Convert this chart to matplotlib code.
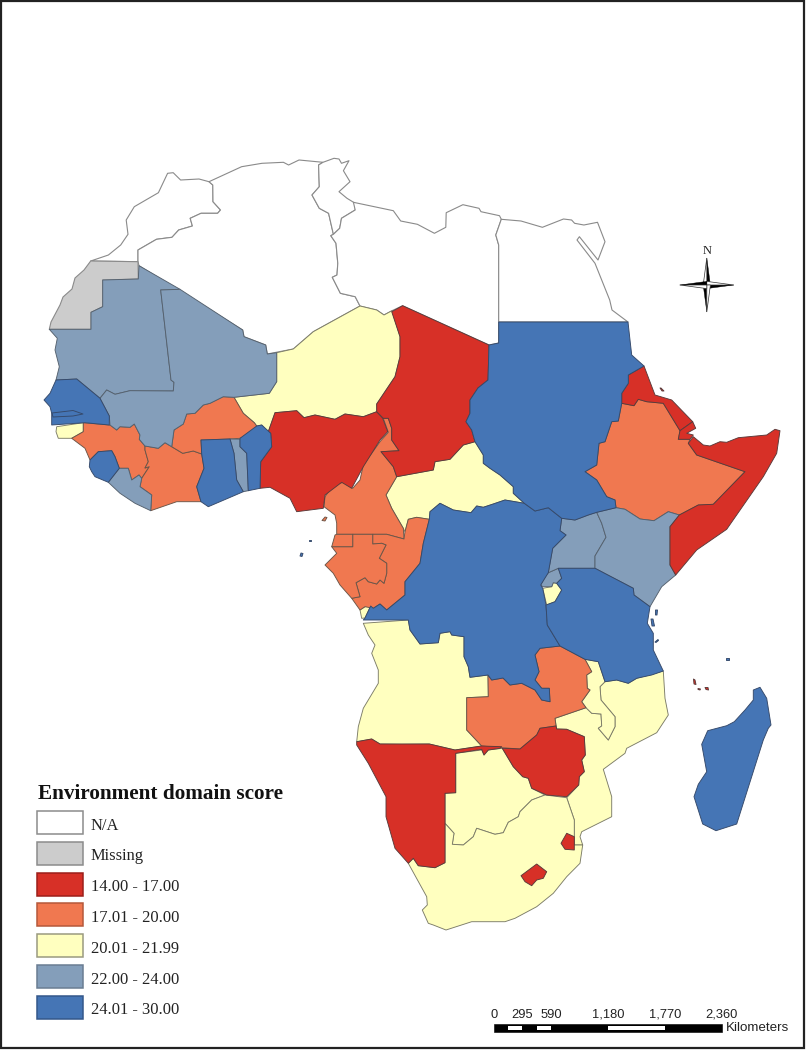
import matplotlib
matplotlib.use('Agg')
import matplotlib.pyplot as plt
from matplotlib.patches import Polygon, Rectangle

# outlines, in image pixels (x, y)
morocco = [(90.7,261),(108.4,255),(120.7,245),(128,234.3),(126.2,220),(134.3,206.7),(158.4,192.7),(167.6,173.3),(173.2,172.7),(180.6,180),(199,179),(209,181.7),(212.8,185),(213,201.7),(220.5,210),(217.6,213.3),(201,213.3),(190.2,218.3),(192.4,226),(178.7,230),(172,237.3),(156.5,239.3),(138,250),(138,261.7)]
algeria = [(209,181.7),(241.6,166.7),(262,163.3),(283.4,162.3),(288.6,165),(299,160),(323,162.3),(318.6,165),(319.3,186.7),(312,195),(319.3,208.3),(328.6,213.3),(333.4,234.3),(330.8,235.7),(336,243.3),(337.8,263.3),(337,275),(332.3,277.3),(340.4,293.3),(355.2,296.7),(360,306),(313.3,331.7),(293.3,349),(267.3,354),(265.7,345),(244,336.7),(242.7,330),(139,265.7),(138,261.7),(138,250),(156.5,239.3),(172,237.3),(178.7,230),(192.4,226),(190.2,218.3),(201,213.3),(217.6,213.3),(220.5,210),(213,201.7),(212.8,185)]
tunisia = [(323,162.3),(334,158.3),(339,159),(341.5,163.3),(349,160.7),(343.4,170.7),(350,181.7),(339,191.7),(347,198.3),(355.2,203.3),(355.2,210),(341.5,218.3),(339.7,228.3),(333.4,234.3),(328.6,213.3),(319.3,208.3),(312,195),(319.3,186.7),(318.6,165)]
libya = [(353.4,202.3),(393.3,210.7),(400.7,221),(417.4,224.3),(434.4,233.3),(445.8,227.3),(446.2,212.7),(462.9,204.7),(479,208.3),(481,211.7),(499.5,215.7),(501.3,219.3),(495.8,235),(498.7,245),(498.7,343),(489,345),(402.6,305.7),(392,310.7),(384,315),(376.7,310),(360,306),(355.2,296.7),(340.4,293.3),(332.3,277.3),(337,275),(337.8,263.3),(336,243.3),(330.8,235.7),(333.4,234.3),(339.7,228.3),(341.5,218.3),(355.2,210)]
egypt = [(501.3,219.3),(521,221),(542.4,227.3),(563.5,219),(571.6,220),(574.6,223.3),(583.9,225),(597.5,222.3),(605,241.7),(598,260),(579.4,236.7),(577,240),(595,263.3),(609.7,300),(612,310),(628,322),(498.7,322),(498.7,245),(495.8,235)]

western_sahara = [(90.7,261),(138,261.7),(138.3,279),(102.7,280),(102.7,306.7),(91,312.3),(91,329.3),(49.3,329.3),(51,322),(60,305),(63,297),(72,289),(75,278),(84,270)]

mauritania = [(139,265.7),(180,289.3),(160.7,290),(171,380),(174,382.3),(173.3,391),(130,390.7),(115,394.3),(106.7,390),(100,398.3),(76.7,379),(56,380),(59.3,366.7),(55,350),(57.3,338.3),(49.3,329.3),(91,329.3),(91,312.3),(102.7,306.7),(102.7,280),(138.3,279)]
mali = [(180,289.3),(242.7,330),(244,336.7),(265.7,345),(267.3,354),(276.7,352.7),(276.7,381.7),(269.3,393.3),(234,397.3),(223.3,396.7),(210,403.3),(203.3,405),(195,413.3),(186.7,414),(183.3,424),(174,430),(171.7,446.7),(165,442.7),(158.3,448.3),(145,446),(139.3,439.3),(140,435),(134.3,424),(130,427.3),(120,426.7),(116.7,430),(110,425),(109.3,416),(100,398.3),(106.7,390),(115,394.3),(130,390.7),(173.3,391),(174,382.3),(171,380),(160.7,290)]
senegal = [(56,380),(76.7,379),(100,398.3),(109.3,416),(109.3,425),(85,422.7),(51.7,425),(51.7,413.3),(50,406.7),(44,400),(50,393.3)]
gambia = [(52,413),(73,410.5),(83,414),(73,416),(53,417)]
guinea_bissau = [(56.7,426.7),(83.3,422.7),(83.3,431.7),(71.7,438.3),(58.3,438.3),(56,431.7)]
guinea = [(83.3,422.7),(109.3,425),(110,425),(116.7,430),(120,426.7),(130,427.3),(134.3,424),(140,435),(139.3,439.3),(145,446),(145,450),(148.3,461.7),(145,468),(149.3,466.7),(141.7,478.3),(139,475),(131.7,480),(128.3,468.3),(119.3,468.3),(115,456.7),(111.7,450.7),(98.3,451.7),(90,460),(85,448.3),(71.7,438.3),(83.3,431.7)]
sierra_leone = [(98.3,451.7),(111.7,450.7),(115,456.7),(119.3,468.3),(108.3,482.3),(95,476.7),(91.7,471.7),(89.3,466.7),(90,460)]
liberia = [(119.3,468.3),(128.3,468.3),(131.7,480),(139,475),(141.7,478.3),(140,486.7),(151.7,495),(150.7,510.7),(135,503.3),(120,493.3),(108.3,482.3)]
ivory_coast = [(145,446),(158.3,448.3),(165,442.7),(171.7,446.7),(182.7,453.3),(193.3,451),(201.7,454),(204,468.3),(196.7,486.7),(201,501.7),(176.7,501.7),(150.7,510.7),(151.7,495),(140,486.7),(141.7,478.3),(149.3,466.7),(145,468),(148.3,461.7),(145,450)]
burkina = [(234,397.3),(243.3,413.3),(254.3,422.7),(256.7,426),(256.7,433),(240,438.3),(230,439),(201,440),(201.7,454),(193.3,451),(182.7,453.3),(171.7,446.7),(174,430),(183.3,424),(186.7,414),(195,413.3),(203.3,405),(210,403.3),(223.3,396.7)]
ghana = [(201,440),(230,439),(234,453.3),(236.7,480),(243.3,491.7),(233.3,496),(208.3,506.7),(201,501.7),(196.7,486.7),(204,468.3),(201.7,454)]
togo = [(230,439),(240,439.3),(240,446.7),(246.7,453.3),(248.3,490.7),(243.3,491.7),(236.7,480),(234,453.3)]
benin = [(240,438.3),(256.7,426),(261.7,425),(270.7,433.3),(271.7,446.7),(260.7,461.7),(260,488.3),(248.3,490.7),(246.7,453.3),(240,446.7)]
niger = [(360,306),(376.7,310),(384,315),(392,310.7),(400,336.7),(400,356.7),(395,376.7),(376.7,404),(376.7,411.7),(363.3,416.7),(345,414),(335,419.3),(315,415),(304,417.7),(296.7,410.7),(275,412.7),(268.3,431.7),(261.7,425),(256.7,426),(254.3,422.7),(243.3,413.3),(234,397.3),(269.3,393.3),(276.7,381.7),(276.7,352.7),(293.3,349),(313.3,331.7)]
nigeria = [(275,412.7),(296.7,410.7),(304,417.7),(315,415),(335,419.3),(345,414),(363.3,416.7),(376.7,411.7),(382.7,418.3),(387.7,431.7),(380,440),(363.3,466.7),(351.7,488.3),(341.7,482.3),(325,495),(323.3,508.3),(296.7,511.7),(290,498.3),(270,487.3),(260,488.3),(260.7,461.7),(271.7,446.7),(270.7,433.3),(268.3,431.7)]
chad = [(391.7,311.7),(402.6,305.7),(489,345),(488,380),(478,388),(470,400),(470,413.3),(466,421.7),(471.7,430),(475,441.7),(463.3,445),(450,459.3),(435,461.7),(433.3,470),(396.7,476.7),(393.3,466.7),(381,451.7),(399,450.7),(391.7,440),(391.7,428.3),(388.3,418.3),(383.3,418.3),(376.7,411.7),(376.7,404),(395,376.7),(400,356.7),(400,336.7)]
cameroon = [(383.3,418.3),(388.3,418.3),(391.7,428.3),(391.7,440),(399,450.7),(381,451.7),(393.3,466.7),(396.7,476.7),(386,495),(391.7,508.3),(403.3,528.3),(404,539),(386.7,534.3),(352.7,534.3),(336.7,534.3),(336.7,523.3),(335,515),(324,506.7),(325,496.7),(333.3,485),(343.3,482.3),(352.7,488.3),(360,480),(363.3,465),(380,441.7),(388.3,432.3)]
car = [(396.7,476.7),(433.3,470),(435,461.7),(450,459.3),(463.3,445),(475,441.7),(483.3,455),(483.3,463.3),(490,468.3),(500,475),(513.3,486.7),(513.3,493.3),(524.3,503.3),(505,500),(493.3,504),(483.3,507.3),(476.7,506),(471,512.7),(453.3,510),(440,503.3),(430,511.7),(429.3,519.3),(416.7,517.3),(408.3,519.3),(405,531.7),(403.3,528.3),(391.7,508.3),(386,495)]
congo = [(429.3,519.3),(423.3,543.3),(420,563.3),(405,581.7),(405,595),(386.7,610),(380,604),(373.3,608.3),(365,606.7),(360,610),(351.7,598.3),(360,596.7),(356,582.7),(365,577.7),(368.3,581.7),(376.7,584),(380,580),(384,583.3),(386.7,573.3),(386.7,563.3),(379.3,558.3),(386,545),(381.7,543.3),(372.7,544),(372.7,534.3),(386.7,534.3),(404,539),(405,531.7),(408.3,519.3),(416.7,517.3)]
gabon = [(352.7,534.3),(372.7,534.3),(372.7,544),(381.7,543.3),(386,545),(379.3,558.3),(386.7,563.3),(386.7,573.3),(384,583.3),(380,580),(376.7,584),(368.3,581.7),(365,577.7),(356,582.7),(360,596.7),(351.7,598.3),(340,585),(333.3,573.3),(325,565),(336.7,553.3),(331.7,546.7),(352.7,546.7)]
eq_guinea = [(336.7,534.3),(352.7,534.3),(352.7,546.7),(331.7,546.7),(335,535)]
drc = [(440,503.3),(453.3,510),(471,512.7),(476.7,506),(483.3,507.3),(493.3,504),(505,500),(524.3,503.3),(535,511),(548.3,507.7),(561.7,518.3),(560,530.7),(566,535),(552.7,548.3),(548.3,572.7),(540.7,585),(542.7,588.3),(546,605),(547.3,625),(560,646),(540,648.3),(535,655),(539,671.7),(535,680),(541.7,688.3),(549.3,688.3),(550,701.7),(541.7,700),(535,690),(521.7,683.3),(510,685),(503,678),(491.7,680),(488,675),(470,677.3),(468.3,666.7),(464,656.7),(464,636.7),(451.7,635),(450,631.7),(440,633.3),(438.3,642.7),(420,644),(410,630),(408.3,620),(363.3,620),(365,618),(370.7,606),(373.3,608.3),(380,604),(386.7,610),(405,595),(405,581.7),(420,563.3),(423.3,543.3),(429.3,519.3),(430,511.7)]
cabinda = [(360,610),(365,606.7),(370.7,606),(365,618),(361.7,618.3)]
angola = [(363.3,623.3),(408.3,620),(410,630),(420,644),(438.3,642.7),(440,633.3),(450,631.7),(451.7,635),(464,636.7),(464,656.7),(468.3,666.7),(470,677.3),(488,675),(488.3,696.7),(466.7,697.7),(466.7,730),(481.7,746),(455,750),(429.3,744),(401.7,744.3),(380,744),(371.7,739),(356.7,741.7),(358.3,726.7),(363.3,708.3),(378.3,683.3),(378.3,670),(371.7,653.3),(375,645),(368.3,635)]
zambia = [(540,648.3),(560,646),(585,659.3),(591.7,671.7),(586.7,675),(587.3,688.3),(590,690),(581.7,701.7),(586,707.7),(555,718.3),(556,726),(540,728.3),(536.7,735),(520,749),(501.7,747.7),(481.7,746),(466.7,730),(466.7,697.7),(488.3,696.7),(488,675),(491.7,680),(503,678),(510,685),(521.7,683.3),(535,690),(541.7,700),(550,701.7),(549.3,688.3),(541.7,688.3),(535,680),(539,671.7),(535,655)]
namibia = [(356.7,741.7),(371.7,739),(380,744),(429.3,744),(455,750),(481.7,746),(501.7,746.7),(500,748.3),(488.3,750),(484,755),(481.7,749.3),(455.7,753.3),(455.7,792.7),(445,793.3),(445,862.7),(435,867.7),(418.3,865.7),(413.3,858.3),(408.3,863.3),(395,848.3),(386,816.7),(386,796.7),(368.3,763.3),(356.7,745)]
botswana = [(455.7,753.3),(481.7,750),(484,755),(488.3,750),(502.3,748.3),(513.3,766.7),(522.7,776.7),(528.3,778.3),(531.7,788.3),(545,795),(531.7,800),(520,811.7),(518.3,816.7),(508.3,822.3),(503.3,832.7),(495,834.3),(476.7,828.3),(473.3,836.7),(463.3,845),(452.3,844.3),(454,833.3),(445,823.3),(445,793.3),(455.7,792.7)]
zimbabwe = [(502.3,748.3),(520,749),(536.7,735),(540,728.3),(556,726),(556.7,729),(566.7,729.3),(584.3,736.7),(585.3,755),(581.7,760),(584.3,771.7),(579.3,776.7),(578.7,785),(566.7,796.7),(546.7,795),(531.7,788.3),(528.3,778.3),(522.7,776.7),(513.3,766.7)]
mozambique = [(555,718.3),(586,707.7),(591.7,713.3),(601,714),(601.7,726),(598.3,728.3),(608.3,740),(615,726.7),(615,716.7),(601,700),(600,686.7),(605,681.7),(616.7,680),(628.3,683.3),(636.7,678.3),(663.3,671),(665,698.3),(668.3,715),(656.7,732.7),(626.7,748.3),(625,753.3),(603.3,769.3),(611.7,796.7),(611.7,816.7),(581.7,831.7),(580,836.7),(582.7,845),(574.3,845),(574.3,820),(566.7,797.7),(578.7,785),(579.3,776.7),(584.3,771.7),(581.7,760),(585.3,755),(584.3,736.7),(566.7,729.3),(556.7,729)]
malawi = [(585,659.3),(598.3,661.7),(605,681.7),(600,686.7),(601,700),(615,716.7),(615,726.7),(608.3,740),(598.3,728.3),(601.7,726),(601,714),(591.7,713.3),(586,707.7),(581.7,701.7),(590,690),(587.3,688.3),(586.7,675),(591.7,671.7)]
tanzania = [(595,568.3),(633.3,588.3),(634,595),(650,606.7),(647.3,623.3),(653.3,633.3),(653.3,650),(663.3,671),(651.7,675),(636.7,678.3),(628.3,683.3),(616.7,680),(605,681.7),(598.3,661.7),(585,659.3),(560,646),(547.3,625),(546,605),(555,601.7),(561.7,590),(556.7,583.3),(561.7,578.3),(558.3,568.3)]
burundi = [(542.7,588.3),(551.7,586.7),(553.3,582.7),(556.7,583.3),(561.7,590),(555,601.7),(546.7,605)]
rwanda = [(548.3,572.7),(558.3,568.3),(561.7,578.3),(556.7,583.3),(553.3,582.7),(551.7,586.7),(542.7,586.7),(540.7,585),(545,576.7)]
uganda = [(561.7,518.3),(575,520),(588.3,515),(596.7,512.3),(601.7,523.3),(606,537.3),(595,556),(595,568.3),(558.3,568.3),(548.3,572.7),(552.7,548.3),(566,535),(560,530.7)]
kenya = [(596.7,512.3),(616,507.7),(625,509.3),(640,519),(654,520.7),(668.3,511.7),(679.3,515),(670,526.7),(670,565),(675.7,575),(661.7,586.7),(650,606.7),(634,595),(633.3,588.3),(595,568.3),(595,556),(606,537.3),(601.7,523.3)]
somalia = [(679.3,515),(670,526.7),(670,565),(675.7,575),(696.7,550),(726.7,529.3),(763.3,476.7),(776.7,453.3),(780,430.7),(775,429.3),(766.7,435),(738.3,437.7),(726.7,442.3),(720,441.7),(710,446),(703.3,445),(693.3,436.7),(688.3,443.3),(696.7,455),(745,471.7),(713.3,504.3),(698.3,505)]
eritrea = [(644,366),(655,395),(671.7,400),(692.7,421.7),(680,430.7),(663.3,403.3),(646.7,401.7),(638.3,399.3),(634,405.7),(621.7,403.3),(621.7,393.3),(628.3,383.3),(628.3,375)]
djibouti = [(680,430.7),(692.7,421.7),(695.7,428.3),(686.7,433.3),(693.3,435),(690,439.3),(678.3,439.3)]
ethiopia = [(621.7,403.3),(634,405.7),(638.3,399.3),(646.7,401.7),(663.3,403.3),(680,430.7),(678.3,439.3),(690,439.3),(688.3,443.3),(696.7,455),(745,471.7),(713.3,504.3),(698.3,505),(679.3,515),(668.3,511.7),(654,520.7),(640,519),(625,509.3),(616,507.7),(615,500),(606.7,496.7),(596.7,480),(585,471.7),(596.7,465),(599,443.3),(605,441.7),(611.7,421.7),(618.3,421)]
sudan = [(498.7,322),(628,322),(630,340),(631.7,355),(644,366),(628.3,375),(628.3,383.3),(621.7,393.3),(621.7,403.3),(618.3,421),(611.7,421.7),(605,441.7),(599,443.3),(596.7,465),(585,471.7),(596.7,480),(606.7,496.7),(615,500),(616,507.7),(596.7,512.3),(588.3,515),(575,520),(561.7,518.3),(548.3,507.7),(535,511),(524.3,503.3),(513.3,493.3),(513.3,486.7),(500,475),(490,468.3),(483.3,463.3),(483.3,455),(475,441.7),(471.7,430),(466,421.7),(470,413.3),(470,400),(478,388),(488,380),(489,345),(498.7,343)]
south_africa = [(408.3,863.3),(413.3,858.3),(418.3,865.7),(435,867.7),(445,862.7),(445,823.3),(454,833.3),(452.3,844.3),(463.3,845),(473.3,836.7),(476.7,828.3),(495,834.3),(503.3,832.7),(508.3,822.3),(518.3,816.7),(520,811.7),(531.7,800),(545,795),(566.7,797.7),(574.3,820),(574.3,845),(582.7,845),(580,863.3),(566.7,876.7),(553.3,893.3),(536.7,906.7),(515,918.3),(505,921.7),(471.7,921.7),(446,930),(433.3,925),(428.3,923.3),(422.3,910),(427.3,905),(426.7,896.7)]
swaziland = [(566.7,833.3),(574.3,836.7),(574.3,850),(565,849.3),(561,843.3)]
lesotho = [(536.7,864),(546.7,871.7),(543.3,878.3),(536.7,880),(531.7,885.7),(525,881.7),(521,875.7)]
madagascar = [(760,687.3),(766.7,698.3),(771,725),(768.3,728.3),(763.3,740),(736.7,824),(716,830.7),(702.7,824),(694,796.7),(698.3,784.3),(706.7,771.7),(701.7,744.3),(707.7,730.7),(726.7,725.7),(734.3,721.7),(745,710),(753.3,700),(753.3,690)]

pemba = [(655.5,610),(657.5,610),(657,615),(655.5,615)]
zanzibar = [(651,619),(653,619),(654.5,626),(652,626)]
mafia = [(655,642),(658,639.5),(658.5,640.5),(656,642.5)]
bioko = [(322,520.5),(325,517),(327,517.5),(325,521)]
sao_tome = [(300,556),(301,553),(303,553.5),(302,556.5)]
principe = [(309,539.5),(311,539.5),(311,541),(309,541)]
dahlak = [(660,388),(661,388),(664,391),(662,391)]
comoros_1 = [(693.5,679),(695,680),(696,684.5),(694,684)]
comoros_2 = [(705,687.5),(708,687.5),(708.5,690),(706,689.5)]
comoros_3 = [(698,688.5),(700.5,689),(700,690),(698,689.5)]
seychelles = [(726,657.5),(728.5,657.5),(728.5,659.5),(726,659.5)]

na_group = [morocco, algeria, tunisia, libya, egypt]
missing_group = [western_sahara]
red_group = [nigeria, chad, namibia, zimbabwe, somalia, eritrea, djibouti, swaziland, lesotho, dahlak, comoros_1, comoros_2, comoros_3]
orange_group = [guinea, ivory_coast, burkina, cameroon, congo, gabon, eq_guinea, zambia, ethiopia, bioko]
yellow_group = [guinea_bissau, niger, car, cabinda, angola, botswana, mozambique, malawi, burundi, south_africa]
greyblue_group = [mauritania, mali, liberia, togo, rwanda, uganda, kenya]
blue_group = [senegal, gambia, sierra_leone, ghana, benin, drc, tanzania, sudan, madagascar, pemba, zanzibar, mafia, sao_tome, principe, seychelles]

legend_labels = ['N/A', 'Missing', '14.00 - 17.00', '17.01 - 20.00', '20.01 - 21.99', '22.00 - 24.00', '24.01 - 30.00']
legend_colors = ['#ffffff', '#cccccc', '#d73027', '#f07850', '#ffffbf', '#849eba', '#4575b5']
legend_edges = ['#8c8c8c', '#8c8c8c', '#9c1f1a', '#b5583a', '#9a9a80', '#6a7d92', '#34578a']

scale_ticks = [0, 295, 590, 1180, 1770, 2360]
scale_white = [(147.5, 295), (442.5, 590), (1180, 1770)]

fig = plt.figure(figsize=(8.06, 10.5), dpi=100)
ax = fig.add_axes([0, 0, 1, 1])
ax.set_xlim(0, 806)
ax.set_ylim(1050, 0)
ax.axis('off')

def draw_group(group, color, edge, lw=0.65):
    for outline in group:
        ax.add_patch(Polygon(outline, closed=True, facecolor=color, edgecolor=edge, linewidth=lw, joinstyle='round'))

draw_group(na_group, legend_colors[0], '#8a8a8a', 0.8)
draw_group(missing_group, legend_colors[1], '#8a8a8a', 0.8)
draw_group(yellow_group, legend_colors[4], '#7c7c68')
draw_group(orange_group, legend_colors[3], '#6a5548')
draw_group(greyblue_group, legend_colors[5], '#55616e')
draw_group(red_group, legend_colors[2], '#5a3a3a')
draw_group(blue_group, legend_colors[6], '#35496a')

# frame
ax.add_patch(Rectangle((1, 1), 803, 1046.5, fill=False, edgecolor='#222222', linewidth=1.6))

# legend
ax.text(37.5, 799.3, 'Environment domain score', family='Liberation Serif', weight='bold', fontsize=15.3, va='baseline', color='#111111')
for i, label in enumerate(legend_labels):
    top = 811 + i * 30.8
    ax.add_patch(Rectangle((37, top), 45.5, 23, facecolor=legend_colors[i], edgecolor=legend_edges[i], linewidth=1.1))
    ax.text(91, top + 18.6, label, family='Liberation Serif', fontsize=11.9, va='baseline', color='#222222')

# scale bar
km = 227.7 / 2360
ax.add_patch(Rectangle((494, 1024.3), 227.7, 7.4, facecolor='black', edgecolor='black', linewidth=0.4))
for a, b in scale_white:
    ax.add_patch(Rectangle((494 + a * km, 1026), (b - a) * km, 4, facecolor='white', edgecolor='none'))
for t in scale_ticks:
    ax.text(494 + t * km, 1017.7, f'{t:,}', family='Liberation Sans', fontsize=9.3, ha='center', va='baseline', color='#222222')
ax.text(725.7, 1030.7, 'Kilometers', family='Liberation Sans', fontsize=9.6, va='baseline', color='#222222')

# north arrow
cx, cy = 706.8, 285
tips = [(0, -27), (27, 0), (0, 27), (-27, 0)]
w = 3.6
for k, (dx, dy) in enumerate(tips):
    nx, ny = -dy / 27 * w, dx / 27 * w
    ax.add_patch(Polygon([(cx, cy), (cx + dx, cy + dy), (cx + nx, cy + ny)], facecolor='black', edgecolor='black', linewidth=0.3))
    ax.add_patch(Polygon([(cx, cy), (cx + dx, cy + dy), (cx - nx, cy - ny)], facecolor='white', edgecolor='#333333', linewidth=0.5))
ax.text(707.3, 254.5, 'N', family='Liberation Serif', fontsize=9, ha='center', va='baseline', color='#222222')

fig.savefig('out.png', dpi=100)
